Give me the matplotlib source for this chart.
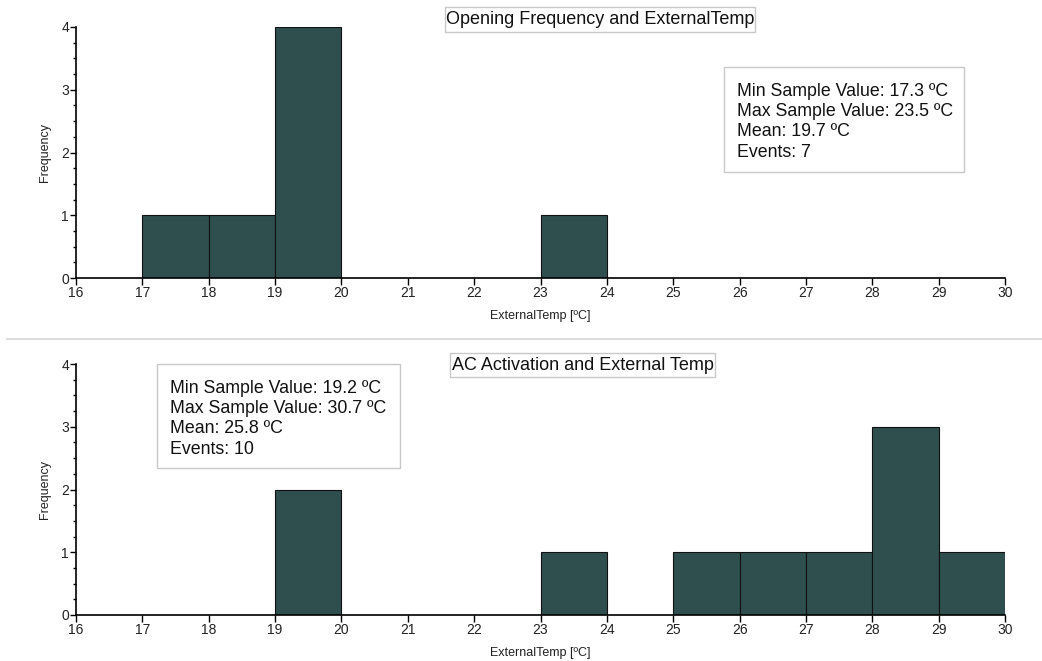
import numpy as np
import matplotlib
matplotlib.use('Agg')
import matplotlib.pyplot as plt
from matplotlib.patches import Rectangle
from matplotlib.lines import Line2D
from matplotlib.ticker import MultipleLocator

plt.rcParams['font.family'] = ['Liberation Sans', 'DejaVu Sans']

# histogram bins (1 degree wide) and counts
edges = np.arange(16, 31)
open_counts = [0, 1, 1, 4, 0, 0, 0, 1, 0, 0, 0, 0, 0, 0]
ac_counts = [0, 0, 0, 2, 0, 0, 0, 1, 0, 1, 1, 1, 3, 1]

open_title = 'Opening Frequency and ExternalTemp'
ac_title = 'AC Activation and External Temp'
open_stats = ['Min Sample Value: 17.3 \u00baC', 'Max Sample Value: 23.5 \u00baC',
              'Mean: 19.7 \u00baC', 'Events: 7']
ac_stats = ['Min Sample Value: 19.2 \u00baC', 'Max Sample Value: 30.7 \u00baC',
            'Mean: 25.8 \u00baC', 'Events: 10']
xlab = 'ExternalTemp [\u00baC]'

W, H = 1042, 661
fig = plt.figure(figsize=(W/100, H/100), dpi=100)
bar_col = '#2f4f4f'


def px(x, y):
    return x / W, 1 - y / H


def panel(rect, counts, title, title_box, stats, stats_box):
    ax = fig.add_axes(rect)
    ax.hist(edges[:-1], bins=edges, weights=counts, color=bar_col,
            edgecolor='#111111', linewidth=0.8)
    ax.set_xlim(16, 30)
    ax.set_ylim(0, 4)
    ax.set_xticks(range(16, 31))
    ax.yaxis.set_major_locator(MultipleLocator(1))
    ax.yaxis.set_minor_locator(MultipleLocator(0.25))
    for s in ['top', 'right']:
        ax.spines[s].set_visible(False)
    ax.spines['left'].set_linewidth(1.2)
    ax.spines['bottom'].set_linewidth(1.2)
    ax.tick_params(axis='x', which='major', length=5, width=1, pad=1, labelsize=10,
                   labelcolor='#222222')
    ax.tick_params(axis='y', which='major', length=4, width=1, pad=1, labelsize=10,
                   labelcolor='#222222')
    ax.tick_params(axis='y', which='minor', length=2.5, width=1)
    ax.set_xlabel(xlab, fontsize=9, labelpad=7, color='#222222')
    ax.set_ylabel('Frequency', fontsize=9, labelpad=7, color='#222222')

    # title box
    x0, y0, x1, y1 = title_box
    fx0, fy1 = px(x0, y1)
    fx1, fy0 = px(x1, y0)
    fig.add_artist(Rectangle((fx0, fy1), fx1 - fx0, fy0 - fy1, transform=fig.transFigure,
                             facecolor='white', edgecolor='#c8c8c8', linewidth=1))
    fig.text((fx0 + fx1) / 2, (fy0 + fy1) / 2, title, ha='center', va='center',
             fontsize=13, color='#111111')

    # stats box
    x0, y0, x1, y1 = stats_box
    fx0, fy1 = px(x0, y1)
    fx1, fy0 = px(x1, y0)
    fig.add_artist(Rectangle((fx0, fy1), fx1 - fx0, fy0 - fy1, transform=fig.transFigure,
                             facecolor='white', edgecolor='#c8c8c8', linewidth=1))
    tx, ty = px(x0 + 13, y0 + 16)
    fig.text(tx, ty, '\n'.join(stats), ha='left', va='top', fontsize=12.8,
             linespacing=1.25, color='#111111')
    return ax


panel([76/W, 1 - 278/H, (1005-76)/W, (278-27)/H], open_counts, open_title,
      (445, 7, 755, 32), open_stats, (724, 67, 964, 172))
panel([76/W, 1 - 615/H, (1005-76)/W, (615-364)/H], ac_counts, ac_title,
      (450, 353, 715, 377), ac_stats, (157, 364, 400, 468))

# separator between the two panels
fig.add_artist(Line2D([7/W, 1], [1 - 339/H, 1 - 339/H], transform=fig.transFigure,
                      color='#dddddd', linewidth=1.5))

fig.savefig('out.png', dpi=100)
